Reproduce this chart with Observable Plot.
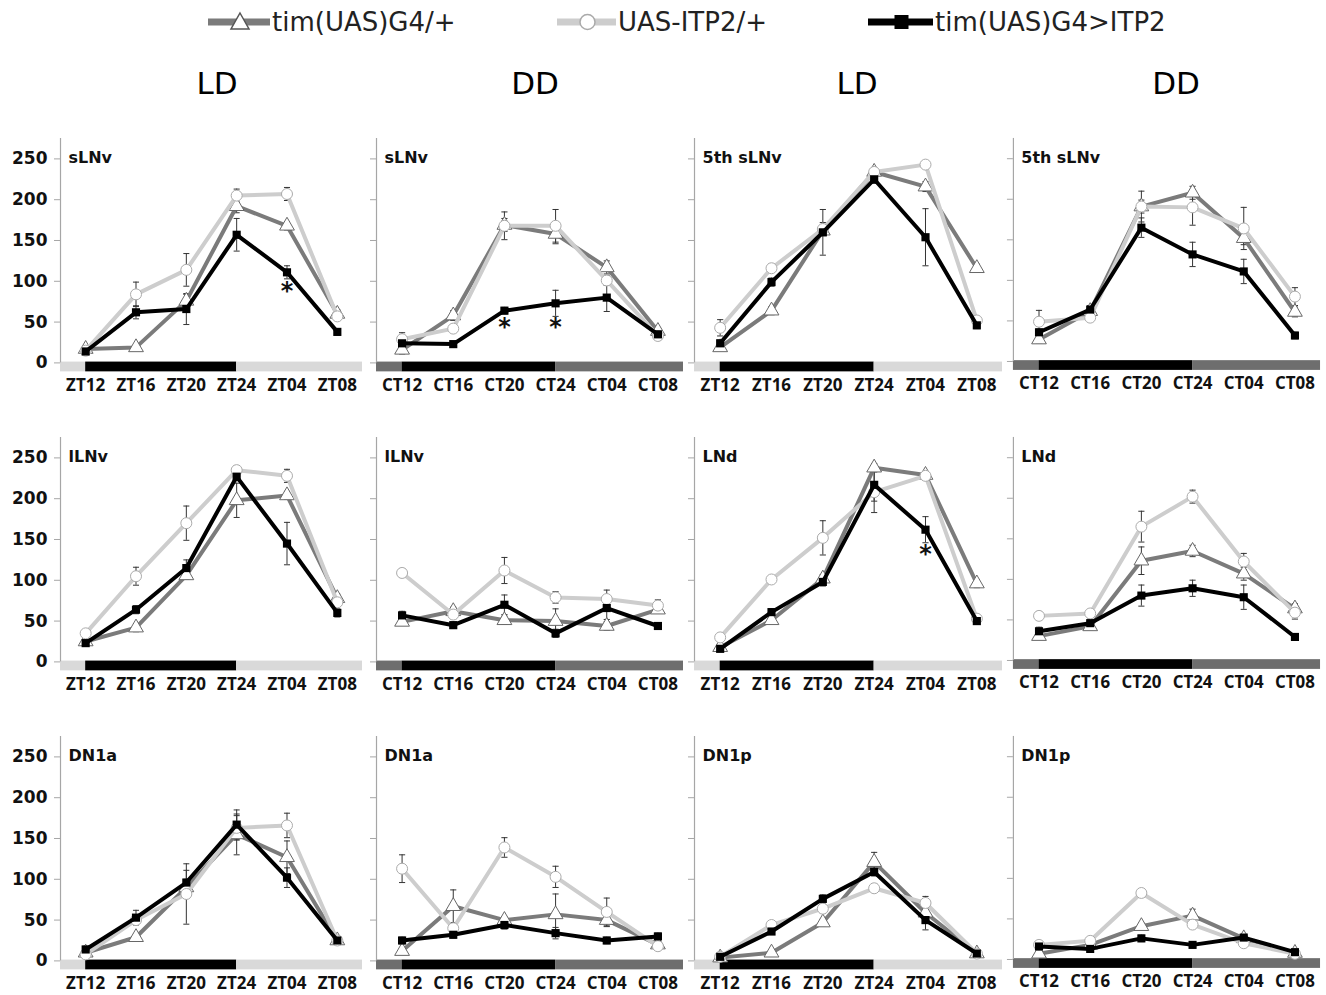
<!DOCTYPE html>
<html><head><meta charset="utf-8">
<script src="https://cdn.jsdelivr.net/npm/d3@7"></script>
<script src="https://cdn.jsdelivr.net/npm/@observablehq/plot@0.6"></script>
<style>
body{margin:0;background:#fff;}
#page{position:relative;width:1326px;height:995px;overflow:hidden;font-family:"DejaVu Sans",sans-serif;background:#fff;}
.panel{position:absolute;}
.title{position:absolute;font-size:31px;transform:translate(-50%,-50%);white-space:nowrap;}
.leg{position:absolute;display:flex;align-items:center;font-size:26px;white-space:nowrap;color:#222;}
</style></head><body><div id="page"></div><script>
// ---- data ----
const ldTimes = ["ZT12","ZT16","ZT20","ZT24","ZT04","ZT08"];
const ddTimes = ["CT12","CT16","CT20","CT24","CT04","CT08"];
const conditions = ["LD","DD","LD","DD"];
const panelNames = ["sLNv","sLNv","5th sLNv","5th sLNv","lLNv","lLNv","LNd","LNd","DN1a","DN1a","DN1p","DN1p"];
const seriesNames = ["tim(UAS)G4/+","UAS-ITP2/+","tim(UAS)G4>ITP2"];
const yTicks = [0,50,100,150,200,250];

// tim(UAS)G4/+  (rows: panels in reading order)
const g4Mean = [
  [17,19,76,192,168,60],[16,58,169,158,117,39],[19,64,162,234,216,116],[27,62,191,208,152,61],
  [25,42,106,198,204,78],[49,62,51,50,44,64],[18,51,102,238,229,96],[30,42,123,135,107,64],
  [10,29,90,155,127,25],[12,67,50,57,50,20],[4,10,47,121,59,9],[7,18,41,54,26,8]];
const g4Err = [
  [3,3,8,8,5,5],[5,6,8,12,8,4],[3,5,5,4,6,5],[4,5,8,8,8,6],
  [4,5,5,21,5,5],[4,5,5,15,5,4],[3,4,5,5,4,5],[3,4,17,7,8,6],
  [3,4,10,25,20,3],[3,20,4,25,8,4],[2,3,4,12,5,2],[2,3,4,8,4,2]];
// UAS-ITP2/+
const uasMean = [
  [15,84,114,205,207,57],[29,42,168,168,101,33],[43,116,164,234,243,52],[49,54,191,190,164,80],
  [35,105,170,235,228,73],[109,58,112,79,77,69],[30,101,152,208,228,53],[55,58,165,202,122,59],
  [8,50,82,163,166,25],[113,40,139,103,60,18],[5,44,64,89,71,9],[18,23,82,43,20,7]];
const uasErr = [
  [3,15,20,8,8,4],[8,4,17,20,6,4],[10,5,8,4,4,4],[14,4,19,22,26,11],
  [4,11,21,5,8,5],[5,5,16,7,11,7],[3,4,21,25,5,4],[5,4,19,8,10,8],
  [3,5,37,15,15,3],[17,5,12,13,17,4],[2,4,5,5,8,2],[3,4,5,5,4,2]];
// tim(UAS)G4>ITP2
const crossMean = [
  [14,62,66,157,111,38],[24,23,64,73,80,35],[24,99,160,225,154,46],[36,64,165,132,111,32],
  [23,64,115,227,145,60],[57,45,70,35,66,44],[16,61,98,217,162,50],[36,46,80,89,78,29],
  [14,53,96,167,102,25],[25,32,44,34,25,30],[5,36,76,109,50,9],[16,13,26,18,27,9]];
const crossErr = [
  [3,8,19,20,8,4],[4,3,4,16,17,4],[4,5,28,5,35,4],[4,5,12,15,15,4],
  [3,5,10,5,26,5],[5,4,12,5,14,4],[3,4,5,20,16,4],[5,5,13,10,15,4],
  [4,9,15,18,12,3],[4,4,5,7,4,4],[2,3,5,5,12,2],[3,3,4,4,4,2]];
// significance stars: panel index, timepoint index, y position
const starPanel = [0,1,1,6];
const starTime = [4,2,3,4];
const starY = [88,43,43,132];

// ---- styles / layout ----
const colors = ["#7b7b7b","#cdcdcd","#000000"];
const axisX = [60,376,694,1013];
const rightX = [362,683,1002,1322];
const zeroY = [362,661,960];
const pxPerUnit = 0.816;
const yMax = 275;

const page = document.getElementById("page");

// legend
const legX = [208,557,868];
const legTextX = [272,618,935];
seriesNames.forEach((name,k)=>{
  const d = document.createElement("div");
  d.className = "leg";
  d.style.left = legX[k]+"px"; d.style.top = "6px"; d.style.height="32px";
  const ns = "http://www.w3.org/2000/svg";
  const s = document.createElementNS(ns,"svg");
  const sw = legTextX[k]-legX[k];
  s.setAttribute("width",sw); s.setAttribute("height",32);
  const ln = document.createElementNS(ns,"line");
  ln.setAttribute("x1",0); ln.setAttribute("x2",sw-2); ln.setAttribute("y1",16); ln.setAttribute("y2",16);
  ln.setAttribute("stroke",colors[k]); ln.setAttribute("stroke-width",7);
  s.appendChild(ln);
  const cx = sw/2;
  let m;
  if (k===0){ m=document.createElementNS(ns,"path"); m.setAttribute("d",`M${cx},${7} L${cx+9},${23} L${cx-9},${23} Z`); m.setAttribute("fill","#fff"); m.setAttribute("stroke","#555"); m.setAttribute("stroke-width",1.5);}
  else if (k===1){ m=document.createElementNS(ns,"circle"); m.setAttribute("cx",cx); m.setAttribute("cy",16); m.setAttribute("r",7.5); m.setAttribute("fill","#fff"); m.setAttribute("stroke","#aaa"); m.setAttribute("stroke-width",1.5);}
  else { m=document.createElementNS(ns,"rect"); m.setAttribute("x",cx-7); m.setAttribute("y",9); m.setAttribute("width",14); m.setAttribute("height",14); m.setAttribute("fill","#000");}
  s.appendChild(m);
  d.appendChild(s);
  const t = document.createElement("span"); t.textContent = name; d.appendChild(t);
  page.appendChild(d);
});

// column titles
const titleX = [217,535,857,1176];
conditions.forEach((c,i)=>{
  const d = document.createElement("div"); d.className="title";
  d.style.left = titleX[i]+"px"; d.style.top = "83px"; d.textContent = c;
  page.appendChild(d);
});

function makePanel(p){
  const row = Math.floor(p/4), col = p%4;
  const isLD = col%2===0;
  const times = isLD ? ldTimes : ddTimes;
  const ML = col===0 ? 56 : 14, MR = 6, MT = 10, MB = 34;
  const plotW = rightX[col]-axisX[col];
  const plotH = yMax*pxPerUnit;
  const W = ML+plotW+MR, H = MT+plotH+MB;
  const means = [g4Mean[p], uasMean[p], crossMean[p]];
  const errs = [g4Err[p], uasErr[p], crossErr[p]];
  const pts = [];
  means.forEach((arr,s)=>arr.forEach((v,i)=>pts.push({s, i, v, e: errs[s][i]})));
  const bySeries = s => pts.filter(d=>d.s===s);
  const sideFill = isLD ? "#d9d9d9" : "#6e6e6e";
  const barSegs = [
    {x1:-0.5, x2:0, fill:sideFill},
    {x1:0, x2:3, fill:"#000"},
    {x1:3, x2:5.5, fill:sideFill}];
  const stars = starPanel.map((sp,k)=>({sp, i:starTime[k], y:starY[k]})).filter(d=>d.sp===p);
  const cap = 0.06;
  const marks = [
    Plot.rect(barSegs, {x1:"x1", x2:"x2", y1:1, y2:-11, fill:"fill"}),
    Plot.ruleX([-0.5], {y1:0, y2:yMax, stroke:"#a6a6a6", strokeWidth:1.2}),
    Plot.axisY({ticks:yTicks, tickSize:6, tickPadding:7, stroke:"#a6a6a6", fill:"#111",
      tickFormat: col===0 ? (d=>String(d)) : (()=>""), fontSize:17, fontWeight:"bold", fontFamily:"DejaVu Sans"}),
    Plot.axisX({ticks:[0,1,2,3,4,5], tickFormat:i=>times[i], tickSize:0, tickPadding:16, fill:"#111",
      fontSize:17, fontWeight:"bold", fontFamily:"Open Sans"}),
    Plot.ruleX(pts, {x:"i", y1:d=>d.v-d.e, y2:d=>d.v+d.e, stroke:"#333", strokeWidth:1}),
    Plot.link(pts, {x1:d=>d.i-cap, x2:d=>d.i+cap, y1:d=>d.v+d.e, y2:d=>d.v+d.e, stroke:"#333", strokeWidth:1}),
    Plot.link(pts, {x1:d=>d.i-cap, x2:d=>d.i+cap, y1:d=>d.v-d.e, y2:d=>d.v-d.e, stroke:"#333", strokeWidth:1}),
    Plot.line(bySeries(0), {x:"i", y:"v", stroke:colors[0], strokeWidth:4}),
    Plot.dot(bySeries(0), {x:"i", y:"v", symbol:"triangle", r:5.5, fill:"#fff", stroke:"#666", strokeWidth:1}),
    Plot.line(bySeries(1), {x:"i", y:"v", stroke:colors[1], strokeWidth:4}),
    Plot.dot(bySeries(1), {x:"i", y:"v", symbol:"circle", r:5.5, fill:"#fff", stroke:"#aaa", strokeWidth:1}),
    Plot.line(bySeries(2), {x:"i", y:"v", stroke:colors[2], strokeWidth:4}),
    Plot.dot(bySeries(2), {x:"i", y:"v", symbol:"square", r:4.6, fill:"#000"}),
    Plot.text([panelNames[p]], {x:-0.5, y:251, text:d=>d, textAnchor:"start", dx:8, fontSize:16, fontWeight:"bold", fontFamily:"DejaVu Sans", fill:"#111"}),
    Plot.text(stars, {x:"i", y:"y", text:()=>"*", fontSize:24, fontWeight:"bold", fontFamily:"DejaVu Sans", fill:"#111"})
  ];
  const chart = Plot.plot({
    width: W, height: H, marginLeft: ML, marginRight: MR, marginTop: MT, marginBottom: MB,
    x: {type:"linear", domain:[-0.5,5.5]},
    y: {type:"linear", domain:[0,yMax]},
    style: {background:"transparent", overflow:"visible", fontFamily:"DejaVu Sans"},
    marks
  });
  const div = document.createElement("div");
  div.className = "panel";
  div.style.left = (axisX[col]-ML)+"px";
  div.style.top = (zeroY[row]-plotH-MT)+"px";
  div.appendChild(chart);
  page.appendChild(div);
}
for (let p=0;p<12;p++) makePanel(p);
</script></body></html>
